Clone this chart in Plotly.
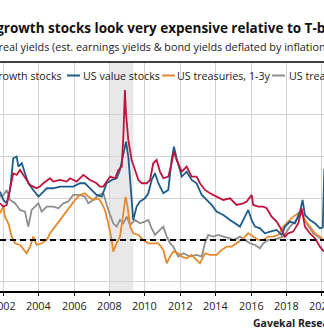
import plotly.graph_objects as go

# ---------------- data (decimal years, real yield %) ----------------
growth_t = [2001.81, 2002.00, 2002.19, 2002.38, 2002.56, 2002.75, 2002.94, 2003.13, 2003.32, 2003.51,
            2003.69, 2003.88, 2004.07, 2004.26, 2004.64, 2004.82, 2005.20, 2005.58, 2005.77, 2006.14,
            2006.52, 2006.90, 2007.27, 2007.46, 2007.65, 2007.84, 2008.03, 2008.31, 2008.50, 2008.69,
            2008.78, 2008.87, 2008.93, 2009.06, 2009.25, 2009.44, 2009.63, 2009.82, 2010.10, 2010.29,
            2010.47, 2010.66, 2010.85, 2011.04, 2011.32, 2011.51, 2011.64, 2011.79, 2012.08, 2012.36,
            2012.64, 2012.92, 2013.11, 2013.39, 2013.68, 2014.05, 2014.43, 2014.81, 2015.18, 2015.56,
            2015.75, 2016.03, 2016.12, 2016.41, 2016.69, 2016.88, 2017.16, 2017.44, 2017.73, 2017.91,
            2018.10, 2018.38, 2018.67, 2018.86, 2019.04, 2019.32, 2019.61, 2019.89, 2020.12]
growth_v = [1.76, 1.60, 1.68, 2.40, 3.20, 3.12, 3.36, 3.12, 2.88, 2.64,
            2.56, 2.48, 2.56, 2.72, 2.96, 2.80, 2.88, 2.80, 2.96, 2.80,
            3.12, 2.88, 2.72, 2.56, 2.56, 2.80, 3.04, 2.96, 3.36, 3.52,
            4.96, 7.20, 6.08, 4.80, 3.84, 3.36, 2.88, 2.72, 2.72, 2.88,
            3.68, 3.84, 3.28, 2.96, 3.04, 3.68, 4.24, 3.84, 3.28, 3.52,
            3.04, 3.04, 2.72, 2.40, 2.24, 2.08, 1.92, 2.00, 1.68, 1.76,
            1.84, 2.16, 1.68, 1.60, 1.60, 1.52, 1.12, 0.88, 0.48, 0.16,
            0.32, 0.40, 0.80, 1.52, 0.64, 0.32, 0.08, -0.32, -0.56]

value_t = [2001.81, 2002.00, 2002.19, 2002.38, 2002.56, 2002.75, 2002.85, 2003.04, 2003.22, 2003.41,
           2003.69, 2003.98, 2004.17, 2004.45, 2004.82, 2005.20, 2005.58, 2005.95, 2006.33, 2006.61,
           2006.90, 2007.27, 2007.56, 2007.84, 2008.12, 2008.40, 2008.59, 2008.78, 2008.93, 2009.06,
           2009.25, 2009.34, 2009.53, 2009.72, 2010.00, 2010.19, 2010.38, 2010.57, 2010.76, 2011.04,
           2011.32, 2011.51, 2011.64, 2011.79, 2012.08, 2012.36, 2012.64, 2012.92, 2013.21, 2013.49,
           2013.77, 2014.05, 2014.43, 2014.81, 2015.09, 2015.37, 2015.65, 2015.84, 2016.03, 2016.22,
           2016.50, 2016.78, 2017.07, 2017.44, 2017.73, 2017.91, 2018.20, 2018.48, 2018.76, 2018.91,
           2019.04, 2019.32, 2019.61, 2019.89, 2020.05, 2020.10, 2020.14]
value_v = [2.32, 1.92, 1.76, 2.40, 3.92, 4.00, 3.52, 3.68, 3.20, 2.72,
           2.40, 2.08, 2.24, 2.48, 2.48, 2.56, 2.56, 2.56, 2.72, 2.72,
           2.48, 2.16, 2.08, 2.72, 2.88, 2.96, 3.36, 4.16, 4.72, 4.00,
           1.92, 0.96, 1.60, 1.84, 2.00, 2.24, 2.88, 3.20, 2.72, 2.24,
           2.40, 3.84, 4.48, 3.92, 3.04, 3.28, 2.88, 2.72, 2.16, 1.92,
           1.68, 1.36, 1.20, 0.96, 0.80, 0.64, 1.12, 1.44, 0.96, 0.64,
           0.56, 0.32, 0.40, 0.48, 0.24, 0.64, 0.88, 0.80, 1.36, 1.92,
           1.20, 0.96, 0.80, 0.56, 0.60, 2.60, 3.40]

tsy13_t = [2001.81, 2002.00, 2002.09, 2002.28, 2002.47, 2002.66, 2002.94, 2003.22, 2003.32, 2003.51,
           2003.69, 2003.88, 2004.17, 2004.45, 2004.64, 2004.92, 2005.20, 2005.48, 2005.77, 2006.05,
           2006.33, 2006.61, 2006.80, 2007.08, 2007.37, 2007.56, 2007.74, 2007.93, 2008.12, 2008.21,
           2008.40, 2008.59, 2008.78, 2008.91, 2009.02, 2009.16, 2009.34, 2009.63, 2009.91, 2010.19,
           2010.47, 2010.76, 2011.04, 2011.23, 2011.42, 2011.60, 2011.89, 2012.08, 2012.36, 2012.64,
           2012.92, 2013.11, 2013.39, 2013.68, 2014.05, 2014.34, 2014.62, 2014.90, 2015.18, 2015.56,
           2015.84, 2016.12, 2016.41, 2016.69, 2016.97, 2017.25, 2017.54, 2017.82, 2018.10, 2018.38,
           2018.67, 2018.86, 2019.04, 2019.32, 2019.61, 2019.89, 2020.08]
tsy13_v = [1.28, 1.60, 1.12, 0.80, 0.16, -0.16, -0.24, -0.56, -0.64, -0.32,
           0.16, -0.24, -0.16, 0.00, 0.32, 0.64, 0.96, 1.28, 1.60, 1.92,
           2.16, 2.24, 2.08, 1.92, 2.00, 1.76, 1.44, 0.80, 0.00, -0.56,
           -0.16, 0.16, 1.28, 2.08, 1.60, 0.64, 0.32, 0.24, 0.00, -0.16,
           -0.16, -0.16, -0.48, -1.12, -0.80, -0.56, -0.64, -0.80, -0.88, -0.72,
           -0.96, -1.12, -0.64, -0.72, -0.72, -0.48, -0.32, -0.32, -0.16, 0.08,
           0.32, 0.16, 0.00, 0.00, 0.16, 0.16, 0.24, 0.64, 0.88, 1.12,
           1.28, 1.36, 0.96, 0.64, 0.32, 0.16, 0.00]

tsy10_t = [2001.81, 2002.00, 2002.19, 2002.38, 2002.66, 2002.94, 2003.22, 2003.41, 2003.60, 2003.79,
           2003.98, 2004.17, 2004.45, 2004.82, 2005.11, 2005.39, 2005.67, 2005.95, 2006.33, 2006.61,
           2006.80, 2007.08, 2007.37, 2007.65, 2007.93, 2008.21, 2008.40, 2008.59, 2008.78, 2008.97,
           2009.16, 2009.44, 2009.72, 2010.00, 2010.19, 2010.38, 2010.57, 2010.85, 2011.04, 2011.23,
           2011.42, 2011.60, 2011.89, 2012.17, 2012.55, 2012.92, 2013.21, 2013.39, 2013.58, 2013.86,
           2014.15, 2014.43, 2014.81, 2014.99, 2015.37, 2015.65, 2015.94, 2016.22, 2016.50, 2016.69,
           2016.97, 2017.25, 2017.54, 2017.82, 2018.20, 2018.57, 2018.86, 2019.14, 2019.51, 2019.89,
           2020.08]
tsy10_v = [2.08, 2.16, 2.40, 1.92, 1.76, 1.44, 1.36, 0.64, 1.44, 1.60,
           1.76, 1.36, 1.60, 1.60, 1.52, 1.76, 1.84, 2.16, 2.16, 2.08,
           1.76, 1.92, 2.16, 2.24, 1.44, 0.80, 0.64, 0.96, 0.80, 1.12,
           0.72, 0.96, 0.80, 0.88, 0.96, 0.56, 0.24, 0.48, 0.64, 0.16,
           -0.16, -0.32, -0.80, -0.64, -0.80, -0.72, -0.80, -0.16, 0.24, 0.16,
           0.24, 0.16, 0.08, 0.00, 0.16, 0.00, -0.16, -0.24, -0.40, -0.16,
           0.00, 0.00, 0.08, 0.16, 0.64, 0.96, 1.28, 0.80, 0.32, 0.08,
           0.00]

tick_years = [2002, 2004, 2006, 2008, 2010, 2012, 2014, 2016, 2018, 2020]
tick_labels = [str(y) for y in tick_years]
y_grid = [-2, 0, 2, 4, 6]
recession = (2008.0, 2009.35)

names = ["US growth stocks", "US value stocks", "US treasuries, 1-3y", "US treasuries, 10y"]
colors = ["#c0143c", "#1c5c8c", "#e8892b", "#8e8e8e"]

# ---------------- figure ----------------
W, H = 324, 336
T, B = 62, 45
PH = H - T - B
FONT = "Open Sans"

def px_x(p):
    return p / W

def px_y(p):
    return (H - B - p) / PH

fig = go.Figure()

fig.add_vrect(x0=recession[0], x1=recession[1], fillcolor="#e8e8e8", opacity=1,
              line_width=0, layer="below")

series = [(tsy10_t, tsy10_v, 3), (tsy13_t, tsy13_v, 2), (value_t, value_v, 1), (growth_t, growth_v, 0)]
for t, v, i in series:
    fig.add_trace(go.Scatter(x=t, y=v, mode="lines", name=names[i],
                             line=dict(color=colors[i], width=1.8), showlegend=False))

fig.add_hline(y=0, line=dict(color="black", width=2, dash="6px,4px"))

# frame line at top
fig.add_shape(type="line", xref="paper", yref="paper", x0=0, x1=1, y0=1, y1=1,
              line=dict(color="black", width=1.5))

# legend swatches
leg_y = px_y(75.5)
for i, (a, b) in zip(range(4), [(-40, -27), (67, 80), (162, 175), (272, 285)]):
    fig.add_shape(type="line", xref="paper", yref="paper", x0=px_x(a), x1=px_x(b),
                  y0=leg_y, y1=leg_y, line=dict(color=colors[i], width=2))

# all texts are centre-anchored (robust to text measurement differences)
ann = []
ann.append(dict(text="<b>US growth stocks look very expensive relative to T-bills</b>",
                x=px_x(160), y=px_y(28),
                font=dict(size=13.5, color="#111", family=FONT)))
ann.append(dict(text="US real yields (est. earnings yields & bond yields deflated by inflation expectations)",
                x=px_x(188.5), y=px_y(46),
                font=dict(size=10.8, color="#222", family=FONT)))
for i, xc in zip(range(4), [19, 121.5, 224, 334]):
    ann.append(dict(text=names[i], x=px_x(xc), y=leg_y,
                    font=dict(size=10.7, color="#222", family=FONT)))
ann.append(dict(text="<b>Gavekal Research</b>", x=px_x(299), y=px_y(323),
                font=dict(size=10.5, color="#222", family=FONT)))
for a in ann:
    a.update(xref="paper", yref="paper")
# x tick labels (drawn at the tick positions, allowed to run past the edges)
for yr, lab in zip(tick_years, tick_labels):
    ann.append(dict(text=lab, x=yr, xref="x", y=px_y(305), yref="paper",
                    font=dict(size=10.8, color="#222", family=FONT)))
for a in ann:
    a.update(showarrow=False, borderpad=0, xanchor="center", yanchor="middle", align="center")
fig.update_layout(annotations=ann)

fig.update_xaxes(range=[2001.81, 2020.12], tickmode="array", tickvals=tick_years,
                 ticktext=tick_labels, showticklabels=False, showgrid=True,
                 gridcolor="#d2d2d2", gridwidth=1,
                 showline=True, linecolor="black", linewidth=1.5, ticks="outside",
                 ticklen=3, tickcolor="black", zeroline=False)
fig.update_yaxes(range=[-2.45, 8.54], tickmode="array", tickvals=y_grid, showgrid=True,
                 gridcolor="#d2d2d2", gridwidth=1, showticklabels=False, zeroline=False,
                 showline=False)

fig.update_layout(width=W, height=H, margin=dict(l=0, r=0, t=T, b=B),
                  paper_bgcolor="white", plot_bgcolor="white",
                  font=dict(family=FONT), showlegend=False)

fig.write_html("out.html")
